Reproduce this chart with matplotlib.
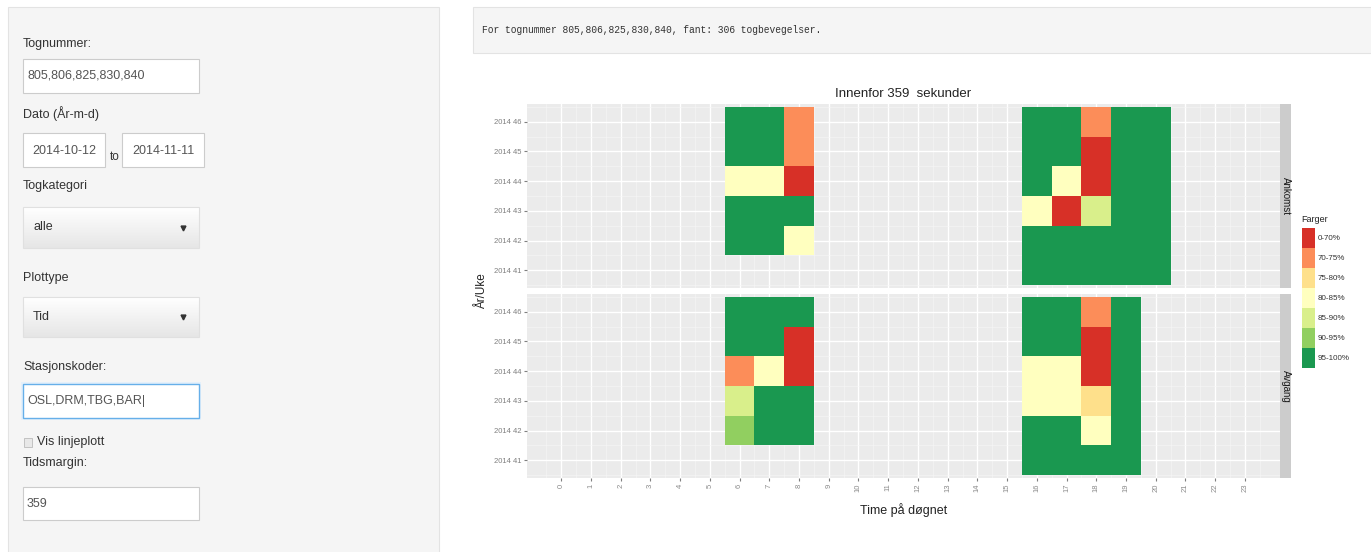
import matplotlib
matplotlib.use("Agg")
import numpy as np
import matplotlib.pyplot as plt
from matplotlib.patches import Rectangle
from matplotlib.colors import LinearSegmentedColormap
from matplotlib import font_manager

# ==========================
# Data
# ==========================

hours = [6, 7, 8, 16, 17, 18, 19, 20]
weeks = ["2014 46", "2014 45", "2014 44", "2014 43", "2014 42", "2014 41"]  # top to bottom
hour_ticks = list(range(24))

bins = ["0-70%", "70-75%", "75-80%", "80-85%", "85-90%", "90-95%", "95-100%"]
bin_colors = ["#d73027", "#fc8d59", "#fee08b", "#ffffbf", "#d9ef8b", "#91cf60", "#1a9850"]

N = None
# rows = weeks (46 -> 41), columns = hours above, value = index in bins
ankomst = [
    [6, 6, 1, 6, 6, 1, 6, 6],
    [6, 6, 1, 6, 6, 0, 6, 6],
    [3, 3, 0, 6, 3, 0, 6, 6],
    [6, 6, 6, 3, 0, 4, 6, 6],
    [6, 6, 3, 6, 6, 6, 6, 6],
    [N, N, N, 6, 6, 6, 6, 6],
]
avgang = [
    [6, 6, 6, 6, 6, 1, 6, N],
    [6, 6, 0, 6, 6, 0, 6, N],
    [1, 3, 0, 3, 3, 0, 6, N],
    [4, 6, 6, 3, 3, 2, 6, N],
    [5, 6, 6, 6, 6, 3, 6, N],
    [N, N, N, 6, 6, 6, 6, N],
]
facets = [("Ankomst", ankomst), ("Avgang", avgang)]

# ==========================
# Fonts / figure
# ==========================

names = {f.name for f in font_manager.fontManager.ttflist}
UI = "Liberation Sans Narrow" if "Liberation Sans Narrow" in names else "Liberation Sans"
MONO = "Liberation Mono"
plt.rcParams["font.family"] = [UI, "DejaVu Sans"]

W, H = 1371, 552
fig = plt.figure(figsize=(W / 100, H / 100), dpi=100)
fig.patch.set_facecolor("white")

# background axes in pixel coordinates (y down)
bg = fig.add_axes([0, 0, 1, 1])
bg.set_xlim(0, W)
bg.set_ylim(H, 0)
bg.axis("off")


def box(x0, y0, x1, y1, fc="white", ec="#cccccc", lw=0.8, z=1):
    bg.add_patch(Rectangle((x0, y0), x1 - x0, y1 - y0, facecolor=fc, edgecolor=ec, linewidth=lw, zorder=z))


def label(x, y, s, size=9, color="#333333", ha="left", **kw):
    bg.text(x, y, s, fontsize=size, color=color, ha=ha, va="center", **kw)


grad = LinearSegmentedColormap.from_list("btn", ["#ffffff", "#e6e6e6"])

# ==========================
# Sidebar
# ==========================
box(8, 7, 439, 560, fc="#f5f5f5", ec="#e3e3e3")

label(23, 44, "Tognummer:")
box(23, 59, 199, 93)
label(27, 76, "805,806,825,830,840", color="#555555")

label(23, 114, "Dato (År-m-d)")
box(23, 133, 105, 167)
label(64, 151, "2014-10-12", color="#555555", ha="center")
label(110, 157, "to", size=8.5)
box(122, 133, 204, 167)
label(163, 151, "2014-11-11", color="#555555", ha="center")

# select inputs
for (lab, ly, y0, y1, val) in [("Togkategori", 186, 207, 248, "alle"), ("Plottype", 278, 297, 337, "Tid")]:
    label(23, ly, lab)
    bg.imshow(np.linspace(0, 1, 50).reshape(-1, 1), cmap=grad, aspect="auto",
              extent=(23, 199, y1, y0), zorder=1)
    box(23, y0, 199, y1, fc="none", ec="#e0e0e0", z=1.2)
    label(33, (y0 + y1) / 2, val, color="#333333", zorder=3)
    bg.plot([183], [(y0 + y1) / 2], marker="v", color="#333333", markersize=3.5, zorder=3)

label(23, 367, "Stasjonskoder:")
box(21, 382, 201, 420, fc="#e4f0fb", ec="none")
box(23, 384, 199, 418, ec="#66afe9", lw=1.0, z=2)
label(27, 401, "OSL,DRM,TBG,BAR|", color="#555555", zorder=3)

box(24, 438, 32, 447, fc="#e8e8e8", ec="#bbbbbb", lw=0.6)
label(37, 442, "Vis linjeplott")

label(23, 463, "Tidsmargin:")
box(23, 487, 199, 520)
label(27, 504, "359", color="#555555")

bg.set_xlim(0, W)
bg.set_ylim(H, 0)

# ==========================
# Verbatim text output
# ==========================
box(473, 7, 1380, 53, fc="#f5f5f5", ec="#e3e3e3")
bg.text(482, 30, "For tognummer 805,806,825,830,840, fant: 306 togbevegelser.",
        fontsize=6.9, family=MONO, color="#333333", va="center")

# ==========================
# Heatmap panels
# ==========================
PX0, PX1 = 527, 1280
panels_y = [(104, 288), (294, 478)]
STRIP_W = 11

for (name, grid), (py0, py1) in zip(facets, panels_y):
    ax = fig.add_axes([PX0 / W, 1 - py1 / H, (PX1 - PX0) / W, (py1 - py0) / H])
    ax.set_facecolor("#ebebeb")
    ax.set_xlim(-1.15, 24.18)
    ax.set_ylim(-0.6, len(weeks) - 0.4)
    for s in ax.spines.values():
        s.set_visible(False)

    ax.set_xticks(hour_ticks)
    ax.set_xticks([h + 0.5 for h in range(-1, 24)], minor=True)
    ax.set_yticks(range(len(weeks)))
    ax.set_yticks([i + 0.5 for i in range(-1, len(weeks))], minor=True)
    ax.grid(True, which="major", color="white", linewidth=1.0)
    ax.grid(True, which="minor", color="#f7f7f7", linewidth=0.4)
    ax.set_axisbelow(True)

    ax.set_yticklabels(list(reversed(weeks)), fontsize=5.5, color="#7f7f7f")
    ax.tick_params(axis="both", which="major", length=2.5, color="#7f7f7f", pad=1.5)
    ax.tick_params(axis="both", which="minor", length=0)

    for r, row in enumerate(grid):
        y = len(weeks) - 1 - r
        for h, v in zip(hours, row):
            if v is None:
                continue
            ax.bar(h, 1.0, bottom=y - 0.5, width=1.0, color=bin_colors[v], linewidth=0, zorder=3)

    if py0 == panels_y[-1][0]:
        ax.set_xticklabels([str(h) for h in hour_ticks], rotation=90, fontsize=5.5, color="#8a8a8a")
        ax.set_xlabel("Time på døgnet", fontsize=9, color="#222222", labelpad=8)
    else:
        ax.set_xticklabels([])
        ax.tick_params(axis="x", length=0)

    # facet strip
    box(PX1, py0, PX1 + STRIP_W, py1, fc="#cccccc", ec="none")
    label(PX1 + STRIP_W / 2, (py0 + py1) / 2, name, size=7, color="#1a1a1a",
          ha="center", rotation=-90)

label((PX0 + PX1) / 2, 94, "Innenfor 359  sekunder", size=9.5, color="#222222", ha="center")
label(482, 291, "År/Uke", size=8.5, color="#222222", ha="center", rotation=90)

# ==========================
# Legend
# ==========================
label(1301, 219, "Farger", size=6.5, color="#222222")
for i, (b, c) in enumerate(zip(bins, bin_colors)):
    ky = 228 + i * 20
    box(1302, ky, 1315, ky + 20, fc=c, ec="none")
    label(1318, ky + 10, b, size=5.8, color="#333333")

fig.savefig("out.png", dpi=100, facecolor="white")
